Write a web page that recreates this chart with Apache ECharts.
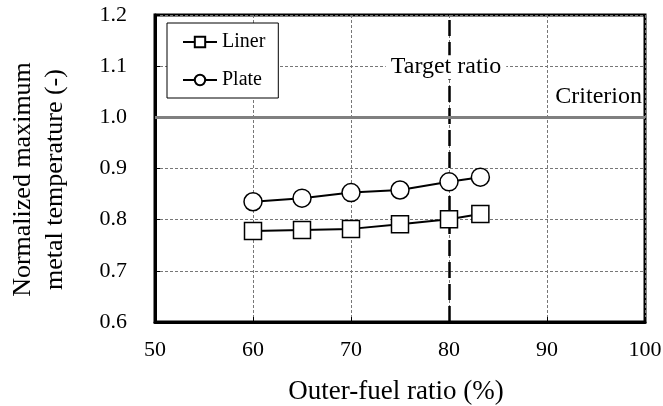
<!DOCTYPE html>
<html><head><meta charset="utf-8">
<script src="https://cdn.jsdelivr.net/npm/echarts@6/dist/echarts.min.js"></script>
<style>html,body{margin:0;padding:0;background:#fff}#c{width:663px;height:406px}</style>
</head><body><div id="c"></div>
<script>
const xTicks = [50, 60, 70, 80, 90, 100];
const yTicks = [0.6, 0.7, 0.8, 0.9, 1.0, 1.1, 1.2];
const ratioValues = [60, 65, 70, 75, 80, 83.2];
const linerValues = [0.778, 0.780, 0.782, 0.791, 0.801, 0.811];
const plateValues = [0.835, 0.842, 0.853, 0.858, 0.874, 0.883];
const targetRatio = 80;
const criterion = 1.0;

const FONT = 'Liberation Serif';
const chart = echarts.init(document.getElementById('c'));
const symStyle = {color: '#fff', borderColor: '#000', borderWidth: 1.5};
chart.setOption({
  animation: false,
  textStyle: {fontFamily: FONT, color: '#000'},
  grid: {left: 155, right: 18, top: 15, bottom: 84, show: true, borderColor: '#000', borderWidth: 3,
         containLabel: false, outerBoundsMode: 'none'},
  legend: {
    left: 167, top: 23, orient: 'vertical', backgroundColor: '#fff',
    borderColor: '#000', borderWidth: 1, padding: [9, 13, 8, 15], itemGap: 18,
    itemWidth: 34, itemHeight: 13,
    textStyle: {fontFamily: FONT, fontSize: 20, color: '#000'},
    data: ['Liner', 'Plate']
  },
  xAxis: {
    type: 'value', min: xTicks[0], max: xTicks[xTicks.length - 1], interval: 10,
    name: 'Outer-fuel ratio (%)', nameLocation: 'middle', nameGap: 56,
    nameTextStyle: {fontFamily: FONT, fontSize: 27, color: '#000', padding: [0, 8, 0, 0]},
    axisLine: {show: true, lineStyle: {color: '#000', width: 3}},
    axisTick: {show: true, inside: true, length: 5, lineStyle: {color: '#000'}},
    axisLabel: {fontFamily: FONT, fontSize: 22, color: '#000', margin: 17},
    splitLine: {show: true, lineStyle: {color: '#777', width: 1, type: [3, 2]}}
  },
  yAxis: {
    type: 'value', min: yTicks[0], max: yTicks[yTicks.length - 1], interval: 0.1,
    name: 'Normalized maximum\nmetal temperature (-)', nameLocation: 'middle', nameGap: 84,
    nameTextStyle: {fontFamily: FONT, fontSize: 26, color: '#000', lineHeight: 32, padding: [0, 22, 0, 0]},
    axisLine: {show: true, lineStyle: {color: '#000', width: 3}},
    axisTick: {show: true, inside: true, length: 5, lineStyle: {color: '#000'}},
    axisLabel: {fontFamily: FONT, fontSize: 22, color: '#000', margin: 28, formatter: v => v.toFixed(1)},
    splitLine: {show: true, lineStyle: {color: '#777', width: 1, type: [3, 2]}}
  },
  series: [
    {
      name: 'Liner', type: 'line', data: ratioValues.map((x, i) => [x, linerValues[i]]),
      symbol: 'rect', symbolSize: 17, showAllSymbol: true,
      lineStyle: {color: '#000', width: 2}, itemStyle: symStyle, z: 5,
      markLine: {
        silent: true, symbol: 'none', animation: false,
        data: [{xAxis: targetRatio}],
        lineStyle: {color: '#000', width: 2.5, type: [16, 6]},
        label: {show: false}
      }
    },
    {
      name: 'Plate', type: 'line', data: ratioValues.map((x, i) => [x, plateValues[i]]),
      symbol: 'circle', symbolSize: 18, showAllSymbol: true,
      lineStyle: {color: '#000', width: 2}, itemStyle: symStyle, z: 5,
      markLine: {
        silent: true, symbol: 'none', animation: false,
        data: [{yAxis: criterion}],
        lineStyle: {color: '#808080', width: 3, type: 'solid'},
        label: {show: true, position: 'insideEndTop', formatter: 'Criterion', fontFamily: FONT, fontSize: 24, color: '#000', distance: [3, 9]}
      },
      markPoint: {
        silent: true, symbol: 'rect', symbolSize: 0,
        data: [{coord: [targetRatio, 1.1]}],
        label: {show: true, position: 'inside', formatter: 'Target ratio', fontFamily: FONT, fontSize: 24, color: '#000', backgroundColor: '#fff', padding: [0, 5], offset: [-3, 1]}
      }
    }
  ]
});
</script></body></html>
